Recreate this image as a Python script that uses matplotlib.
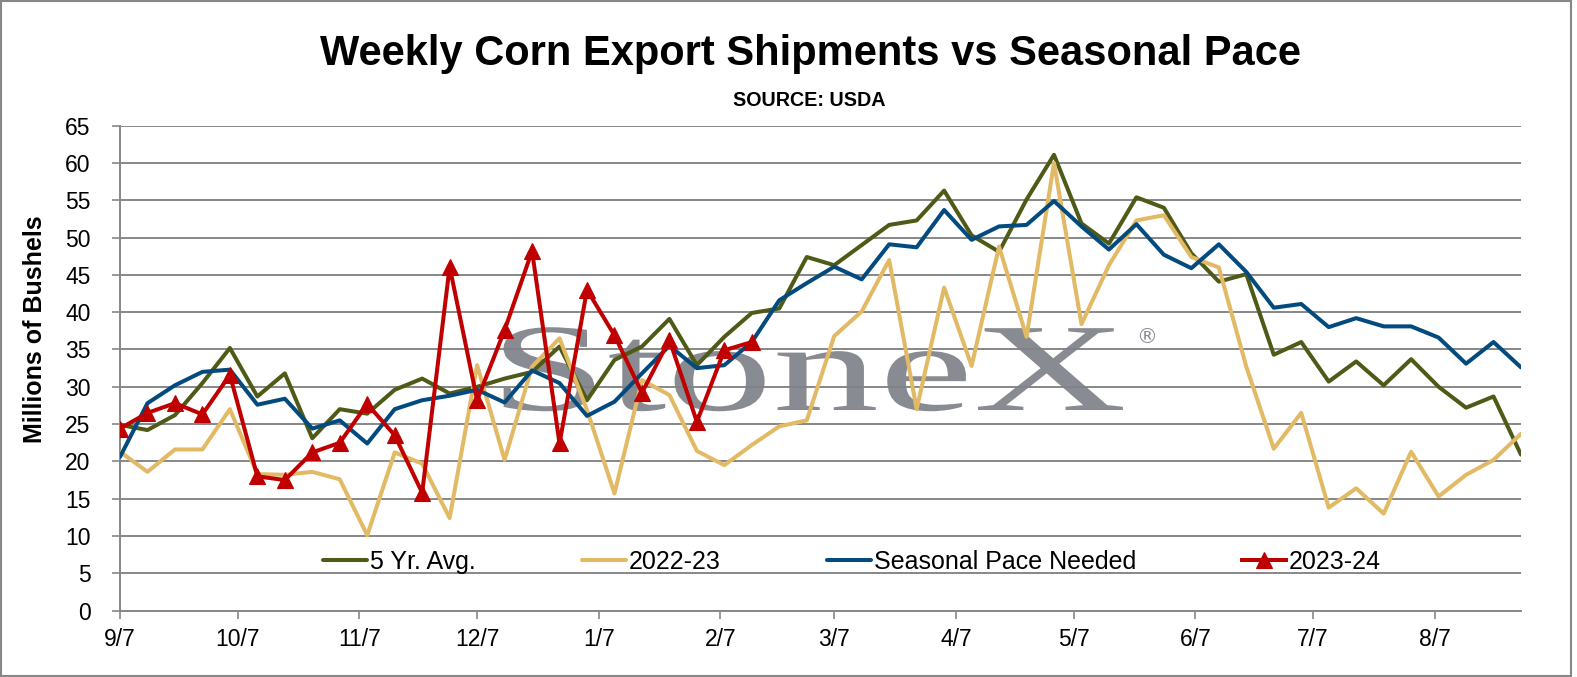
import datetime
import numpy as np
import matplotlib
matplotlib.use("Agg")
import matplotlib.pyplot as plt
from matplotlib.patches import Rectangle
from matplotlib import patheffects
from matplotlib.transforms import Affine2D

plt.rcParams['font.family'] = ['Liberation Sans', 'DejaVu Sans']

# ---------------- data ----------------
start_date = datetime.date(2023, 9, 7)
n_weeks = 52
week_dates = [start_date + datetime.timedelta(days=7 * i) for i in range(n_weeks)]

avg5 = [24.9, 24.2, 26.2, 30.5, 35.2, 28.7, 31.8, 23.1, 27.0, 26.4,
        29.6, 31.1, 29.1, 30.0, 31.1, 32.0, 35.4, 28.2, 33.6, 35.4,
        39.1, 32.9, 36.7, 39.9, 40.5, 47.4, 46.3, 49.0, 51.7, 52.3,
        56.3, 50.3, 48.1, 55.1, 61.1, 51.9, 49.2, 55.4, 54.0, 47.9,
        44.1, 45.1, 34.3, 36.0, 30.7, 33.4, 30.2, 33.7, 30.0, 27.2,
        28.7, 20.9]

prev_year = [21.3, 18.6, 21.6, 21.6, 27.0, 18.3, 18.2, 18.6, 17.6, 10.1,
             21.2, 19.7, 12.4, 32.9, 20.2, 32.7, 36.5, 26.9, 15.7, 30.9,
             28.9, 21.4, 19.5, 22.2, 24.7, 25.5, 36.8, 40.1, 47.0, 27.0,
             43.3, 32.8, 48.8, 36.7, 60.0, 38.4, 46.3, 52.3, 53.0, 47.4,
             46.0, 32.7, 21.7, 26.5, 13.8, 16.4, 13.0, 21.3, 15.3, 18.2,
             20.2, 23.7]

pace_needed = [20.6, 27.8, 30.2, 32.0, 32.3, 27.6, 28.4, 24.4, 25.5, 22.4,
               27.0, 28.2, 28.8, 29.6, 27.9, 32.2, 30.5, 26.1, 28.0, 31.8,
               35.5, 32.5, 32.9, 36.0, 41.6, 43.9, 46.1, 44.4, 49.1, 48.7,
               53.7, 49.7, 51.5, 51.7, 54.9, 51.5, 48.4, 51.8, 47.7, 45.9,
               49.1, 45.4, 40.6, 41.1, 38.0, 39.2, 38.1, 38.1, 36.6, 33.1,
               36.0, 32.6]

current_year = [24.4, 26.5, 27.8, 26.3, 31.6, 18.0, 17.5, 21.2, 22.5, 27.7,
                23.5, 15.8, 46.1, 28.2, 37.6, 48.2, 22.4, 43.0, 36.9, 29.2,
                36.3, 25.3, 34.9, 36.0]

series_names = ["5 Yr. Avg.", "2022-23", "Seasonal Pace Needed", "2023-24"]
tick_labels = ["9/7", "10/7", "11/7", "12/7", "1/7", "2/7", "3/7",
               "4/7", "5/7", "6/7", "7/7", "8/7"]
y_ticks = list(range(0, 66, 5))

title = "Weekly Corn Export Shipments vs Seasonal Pace"
subtitle = "SOURCE: USDA"
ylabel = "Millions of Bushels"

# ---------------- styling ----------------
C_OLIVE = "#4F5A17"
C_TAN = "#E2B964"
C_BLUE = "#034A7E"
C_RED = "#C00000"
C_GRID = "#878787"
C_MARK = "#80828A"

W, H = 1577, 677
fig = plt.figure(figsize=(W / 100, H / 100), dpi=100)
ax_l, ax_r, ax_t, ax_b = 120, 1521, 125.7, 610.6
ax = fig.add_axes([ax_l / W, 1 - ax_b / H, (ax_r - ax_l) / W, (ax_b - ax_t) / H])

x_all = [datetime.datetime.combine(d, datetime.time()) for d in week_dates]
x_cur = x_all[:len(current_year)]

lw = 2.9
l1, = ax.plot(x_all, avg5, color=C_OLIVE, lw=lw, solid_joinstyle='round',
              solid_capstyle='round', zorder=3, label=series_names[0])
l2, = ax.plot(x_all, prev_year, color=C_TAN, lw=lw, solid_joinstyle='round',
              solid_capstyle='round', zorder=3.1, label=series_names[1])
l3, = ax.plot(x_all, pace_needed, color=C_BLUE, lw=lw, solid_joinstyle='round',
              solid_capstyle='round', zorder=3.2, label=series_names[2])
l4, = ax.plot(x_cur, current_year, color=C_RED, lw=lw, solid_joinstyle='round',
              marker='^', markersize=11.5, markeredgewidth=0.8,
              markeredgecolor=C_RED, zorder=3.3, label=series_names[3])

ax.set_xlim(x_all[0], x_all[-1])
ax.set_ylim(0, 65)

# x ticks at the 7th of each month
tick_dates = []
for lab in tick_labels:
    m, d = (int(v) for v in lab.split("/"))
    yr = start_date.year if m >= start_date.month else start_date.year + 1
    tick_dates.append(datetime.datetime(yr, m, d))
ax.set_xticks(tick_dates)
ax.set_xticklabels(tick_labels)
ax.set_yticks(y_ticks)
ax.set_yticklabels([str(v) for v in y_ticks])

ax.tick_params(axis='y', labelsize=16.5, length=5.8, width=1.2, color=C_GRID,
               pad=15.5, direction='out')
ax.tick_params(axis='x', labelsize=16.5, length=5.8, width=1.2, color=C_GRID,
               pad=7.0, direction='out')

ax.grid(axis='y', color=C_GRID, lw=1.4, zorder=0.5)
ax.set_axisbelow(True)
for s in ['top', 'right']:
    ax.spines[s].set_visible(False)
for s in ['left', 'bottom']:
    ax.spines[s].set_color(C_GRID)
    ax.spines[s].set_linewidth(1.4)


# watermark: serif logo text stretched horizontally around its centre
class HStretch(patheffects.AbstractPathEffect):
    def __init__(self, sx, cx):
        super().__init__()
        self.sx = sx
        self.cx = cx

    def draw_path(self, renderer, gc, tpath, affine, rgbFace=None):
        aff = affine + Affine2D().translate(-self.cx, 0).scale(self.sx, 1).translate(self.cx, 0)
        renderer.draw_path(gc, tpath, aff, rgbFace)


wm_cx = 808
ax.text((wm_cx - ax_l) / (ax_r - ax_l), (ax_b - 410) / (ax_b - ax_t), "StoneX",
        transform=ax.transAxes, ha='center', va='baseline',
        family='Liberation Serif', fontsize=90, color=C_MARK, alpha=0.93,
        zorder=1, path_effects=[HStretch(1.70, wm_cx)])
ax.text((1147 - ax_l) / (ax_r - ax_l), (ax_b - 337) / (ax_b - ax_t), "®",
        transform=ax.transAxes, ha='center', va='center',
        family='DejaVu Sans', fontsize=15, color=C_MARK, alpha=0.93,
        zorder=1)

# legend
leg = ax.legend(handles=[l1, l2, l3, l4], loc='center left',
                bbox_to_anchor=((323 - ax_l) / (ax_r - ax_l), (ax_b - 562) / (ax_b - ax_t)),
                ncol=4, frameon=False, fontsize=18, handlelength=1.76,
                handletextpad=0.12, columnspacing=4.24, borderpad=0,
                borderaxespad=0, numpoints=1)

# titles / labels
fig.text(810 / W, 1 - 65 / H, title, ha='center', va='baseline',
         fontsize=30, fontweight='bold')
fig.text(809 / W, 1 - 105.7 / H, subtitle, ha='center', va='baseline',
         fontsize=14.2, fontweight='bold')
fig.text(35 / W, 1 - 329.5 / H, ylabel, ha='center', va='center',
         rotation=90, fontsize=18, fontweight='bold')

# outer frame
fig.patches.append(Rectangle((1 / W, 1 / H), 1570 / W, 675 / H,
                             transform=fig.transFigure, fill=False,
                             edgecolor=C_GRID, lw=1.5))

fig.savefig("out.png", dpi=100)
